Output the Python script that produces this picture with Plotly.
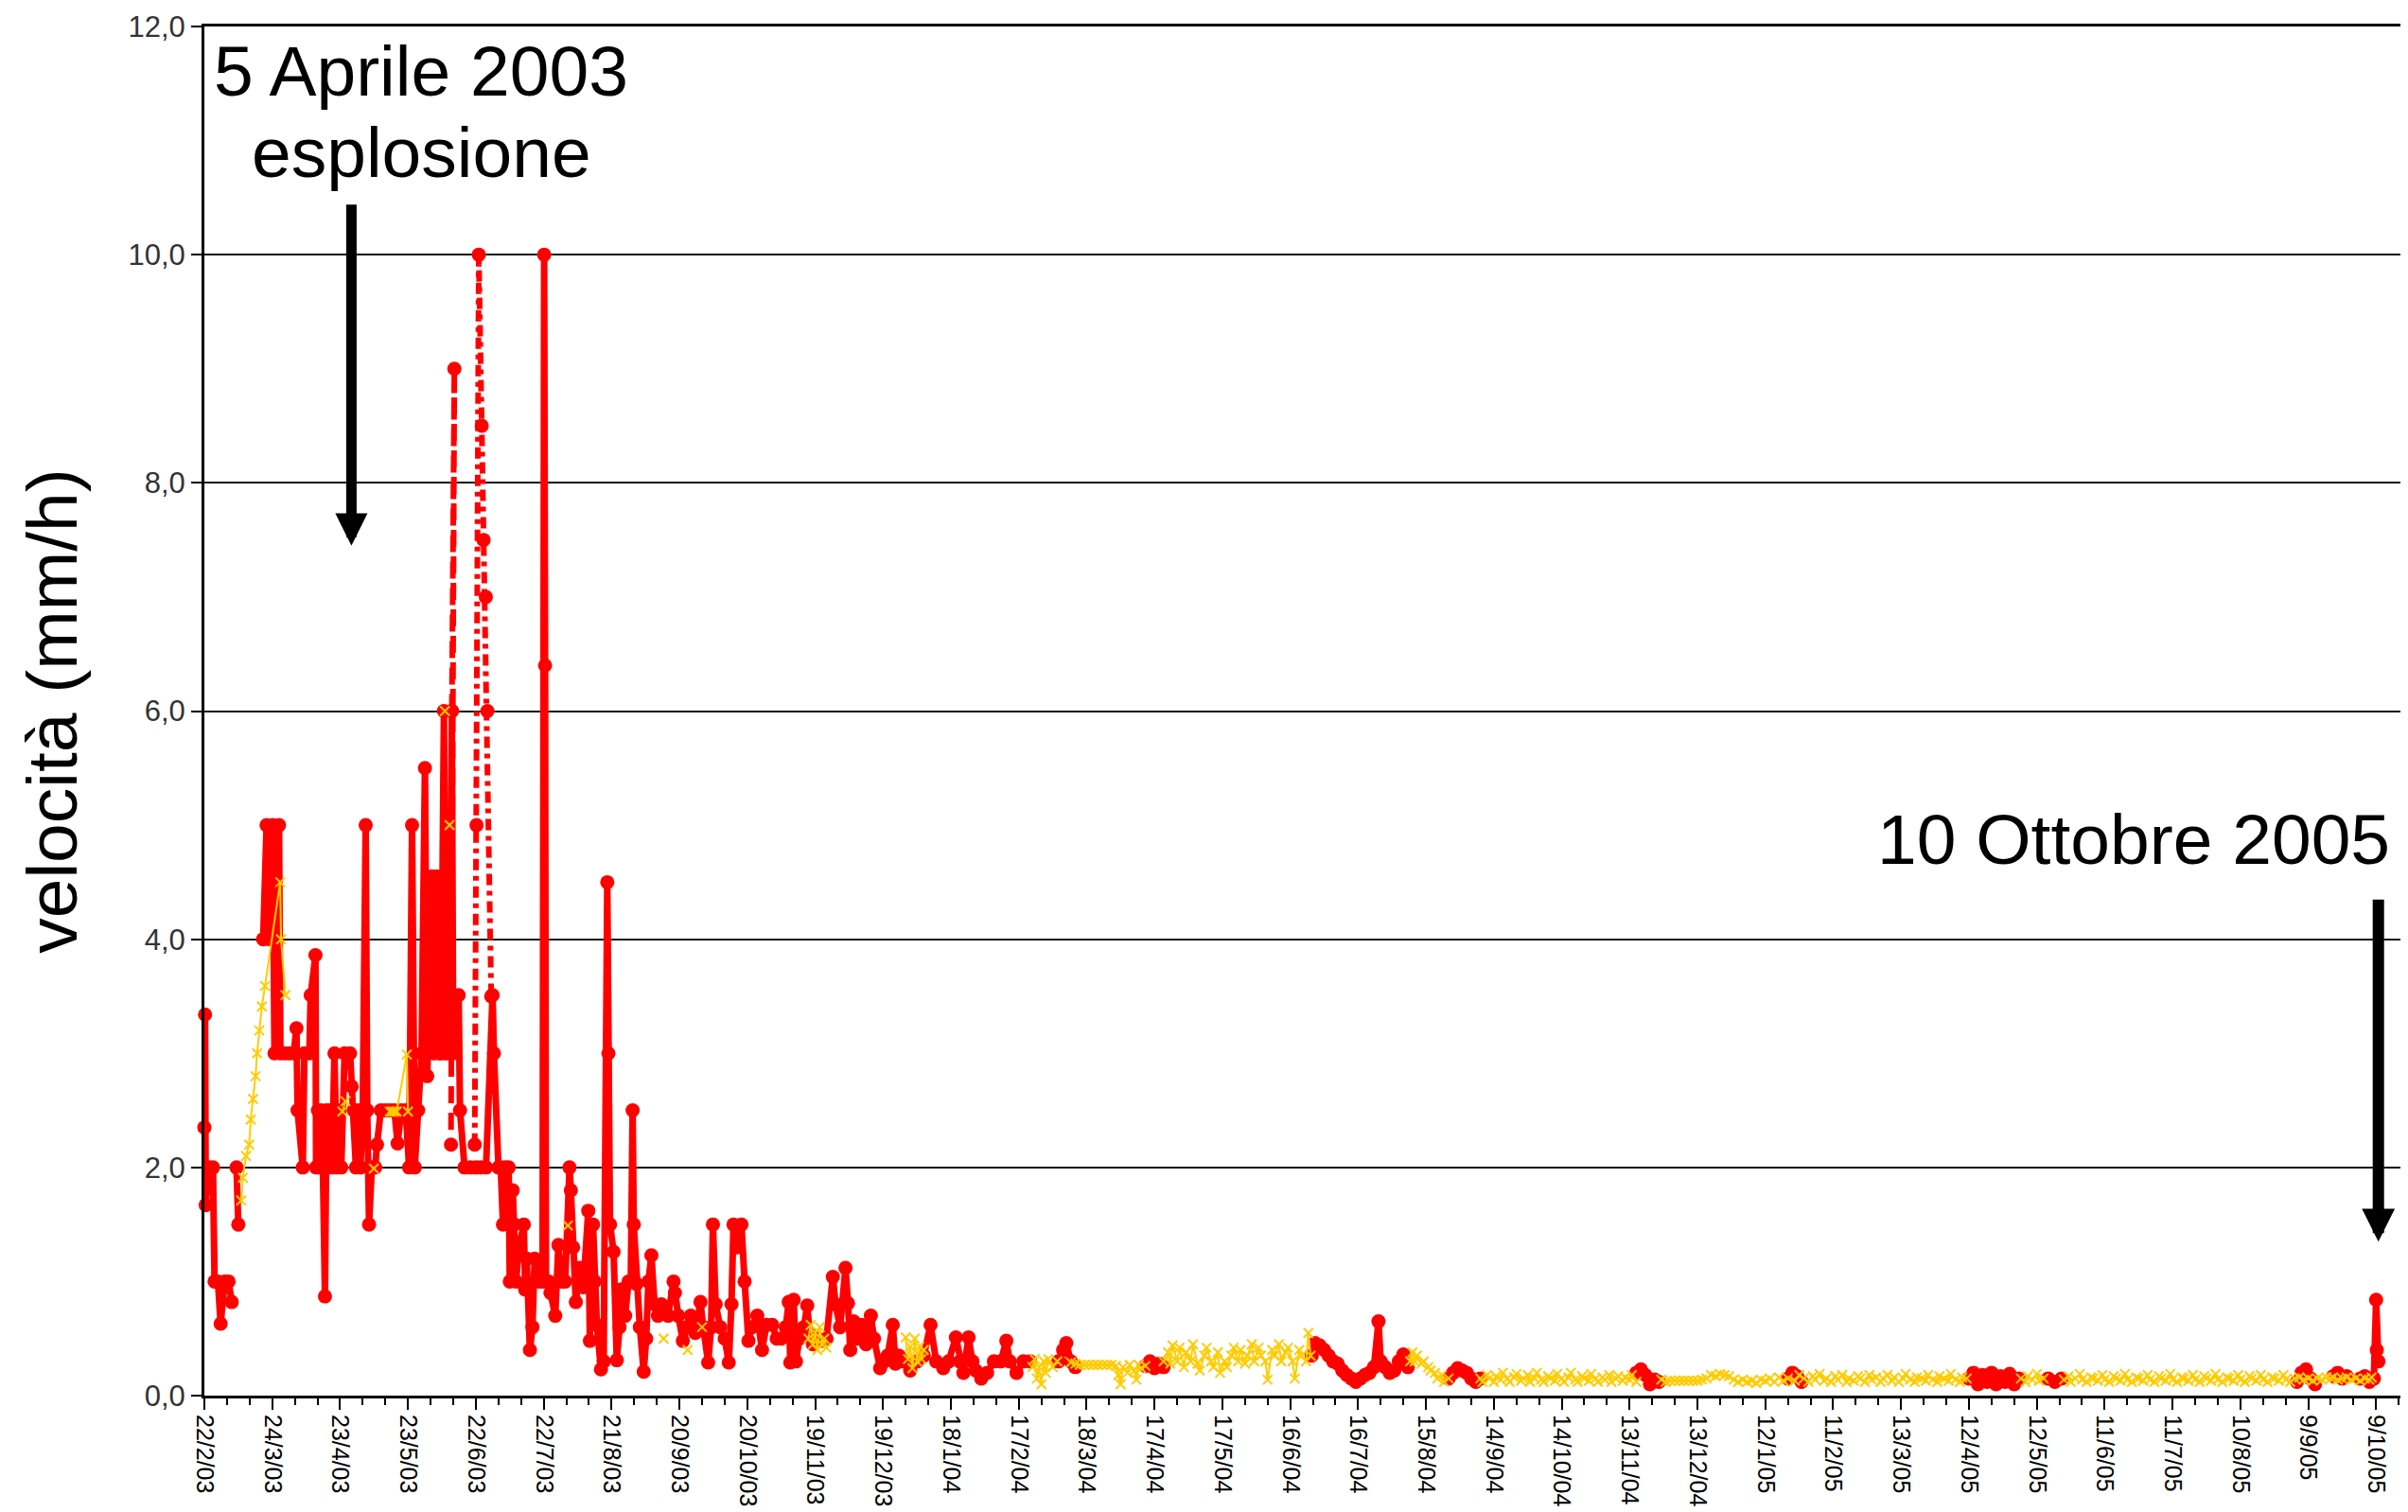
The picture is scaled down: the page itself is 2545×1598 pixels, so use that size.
import plotly.graph_objects as go
import pandas as pd

START = pd.Timestamp("2003-02-22")

# ---- red series (day offset from 22/2/03, velocity mm/h); None = gap ----
red_pts = [
    (0.0, 2.35), (0.3, 3.34), (0.6, 1.67), (2.0, 2.0), (3.8, 2.0), (4.5, 1.0), (6.0, 1.0),
    (7.2, 0.63), (9.0, 1.0), (10.7, 1.0), (12.1, 0.82), (13.0, None),
    (14.2, 2.0), (15.0, 1.5), (20.0, None),
    (26.0, 4.0), (27.5, 5.0), (28.9, 4.0), (30.2, 5.0), (31.0, 3.0), (32.0, 4.0), (33.0, 5.0),
    (33.6, 3.0), (35.5, 3.0), (37.5, 3.0), (39.5, 3.0), (40.7, 3.22), (41.2, 2.5), (43.5, 2.0),
    (44.2, 3.0), (46.4, 3.0), (47.0, 3.51), (49.1, 3.86), (49.4, 2.0), (50.2, 2.5), (50.9, 2.0),
    (51.6, 2.5), (52.4, 2.0), (53.3, 0.87), (54.0, 2.5), (54.8, 2.0), (55.6, 2.5), (56.4, 2.0),
    (57.5, 3.0), (58.5, 2.0), (59.5, 2.5), (60.5, 2.0), (62.0, 3.0), (64.4, 3.0), (65.1, 2.71),
    (66.0, 2.5), (67.0, 2.0), (68.0, 2.5), (69.0, 2.0), (70.0, 2.5), (71.3, 5.0), (72.0, 2.5),
    (72.8, 1.5), (74.0, 2.0), (75.5, 2.0), (76.3, 2.2), (78.0, 2.5), (80.0, 2.5), (82.0, 2.5),
    (84.0, 2.5), (85.4, 2.21), (87.0, 2.5), (89.0, 2.5), (90.5, 2.0), (91.8, 5.0), (93.0, 2.0),
    (94.5, 2.5), (96.0, 3.0), (97.5, 5.5), (98.5, 2.8), (99.5, 3.5), (100.7, 4.55), (101.5, 3.0),
    (102.8, 4.55), (103.8, 3.0), (104.6, 3.0), (105.9, 6.0), (106.5, 3.0), (108.0, 3.0),
    (109.4, 6.0), (110.0, 3.0), (112.4, 3.51), (113.0, 2.5), (115.0, 2.0), (117.6, 2.0),
    (120.0, 2.0), (122.0, 2.0), (124.5, 2.0), (127.4, 3.51), (128.0, 3.0), (130.0, 2.0),
    (131.0, 2.0), (132.0, 1.5), (133.0, 2.0), (134.5, 2.0), (135.0, 1.0), (136.3, 1.8),
    (137.0, 1.5), (137.8, 1.0), (139.0, 1.3), (141.2, 1.5), (141.8, 0.93), (142.5, 1.2),
    (143.9, 0.4), (145.0, 0.6), (146.0, 1.2), (148.0, 1.0), (149.5, 1.0), (150.2, 10.0),
    (150.6, 6.4), (151.0, 1.0), (152.3, 1.0), (153.0, 0.9), (155.1, 0.7), (156.5, 1.32),
    (158.0, 1.0), (159.5, 1.0), (161.4, 2.0), (162.0, 1.8), (163.0, 1.3), (164.2, 0.82),
    (166.0, 1.12), (167.5, 0.95), (169.7, 1.62), (170.4, 0.48), (171.8, 1.5), (172.5, 1.0),
    (173.5, 0.62), (175.3, 0.23), (176.5, 0.3), (178.1, 4.5), (178.6, 3.0), (179.3, 1.5),
    (180.9, 1.26), (182.3, 0.31), (183.5, 0.6), (184.4, 0.93), (186.0, 0.7), (187.5, 1.0),
    (188.5, 1.0), (189.3, 2.5), (189.8, 1.5), (191.0, 0.98), (192.5, 0.6), (194.2, 0.21),
    (195.3, 0.5), (196.3, 1.0), (197.6, 1.23), (199.0, 0.8), (200.5, 0.7), (202.0, 0.8),
    (205.0, 0.7), (207.4, 1.0), (208.0, 0.9), (209.5, 0.7), (211.5, 0.48), (213.0, 0.6),
    (215.0, 0.7), (217.0, 0.55), (219.3, 0.82), (220.5, 0.6), (222.7, 0.29), (224.0, 0.6),
    (224.8, 1.5), (226.0, 0.8), (228.0, 0.6), (230.0, 0.5), (231.8, 0.29), (233.0, 0.8),
    (233.9, 1.5), (235.5, 1.3), (237.4, 1.5), (238.8, 1.0), (240.5, 0.48), (242.0, 0.6),
    (244.4, 0.7), (246.5, 0.4), (248.5, 0.62), (251.0, 0.62), (253.0, 0.5), (255.0, 0.5),
    (257.0, 0.6), (258.3, 0.82), (259.0, 0.29), (260.5, 0.84), (261.5, 0.3), (263.0, 0.5),
    (265.0, 0.6), (266.5, 0.79), (267.5, 0.55), (269.0, 0.45), (271.0, 0.5), (273.0, 0.48),
    (275.0, 0.5), (277.8, 1.04), (279.0, 0.8), (281.0, 0.6), (283.4, 1.12), (284.5, 0.81),
    (285.5, 0.4), (287.0, 0.65), (288.5, 0.5), (290.4, 0.62), (292.5, 0.45), (294.6, 0.7),
    (296.0, 0.5), (298.7, 0.24), (300.5, 0.3), (302.0, 0.35), (304.3, 0.62), (305.5, 0.28),
    (307.0, 0.35), (309.0, 0.3), (312.0, 0.22), (315.0, 0.3), (318.0, 0.35), (321.0, 0.62),
    (323.5, 0.3), (326.6, 0.24), (329.0, 0.3), (332.2, 0.51), (334.0, 0.3), (335.5, 0.2),
    (337.8, 0.51), (339.5, 0.3), (341.0, 0.22), (343.4, 0.15), (346.0, 0.2), (349.0, 0.3),
    (352.0, 0.3), (354.5, 0.48), (356.0, 0.3), (359.0, 0.2), (362.0, 0.3), (365.0, 0.3),
    (366.5, None),
    (377.5, 0.3), (379.6, 0.4), (381.0, 0.46), (383.0, 0.3), (385.0, 0.25), (386.0, None),
    (416.0, 0.26), (418.0, 0.3), (420.0, 0.24), (422.0, 0.28), (424.0, 0.25), (425.0, None),
    (489.5, 0.35), (491.0, 0.46), (493.0, 0.44), (495.0, 0.4), (497.0, 0.35), (499.0, 0.3),
    (501.0, 0.28), (503.0, 0.22), (505.0, 0.18), (507.0, 0.15), (509.0, 0.12), (511.0, 0.15),
    (513.0, 0.18), (515.0, 0.2), (517.0, 0.25), (519.0, 0.65), (520.0, 0.3), (522.0, 0.25),
    (524.0, 0.2), (526.0, 0.22), (528.0, 0.3), (530.0, 0.36), (532.0, 0.25), (533.0, None),
    (550.0, 0.15), (552.0, 0.2), (554.0, 0.24), (556.0, 0.22), (558.0, 0.2), (560.0, 0.15),
    (562.0, 0.12), (564.0, 0.15), (565.0, None),
    (633.0, 0.2), (635.0, 0.23), (637.0, 0.18), (639.0, 0.1), (641.0, 0.14), (643.0, 0.12),
    (645.0, None),
    (700.0, 0.15), (702.0, 0.2), (704.0, 0.17), (706.0, 0.12), (707.0, None),
    (780.0, 0.15), (782.0, 0.2), (784.0, 0.1), (786.0, 0.18), (788.0, 0.12), (790.0, 0.2),
    (792.0, 0.1), (794.0, 0.17), (796.0, 0.12), (798.0, 0.19), (800.0, 0.1), (802.0, 0.15),
    (803.0, None),
    (815.0, 0.15), (818.0, 0.12), (821.0, 0.15), (822.0, None),
    (925.0, 0.12), (927.0, 0.2), (929.0, 0.23), (931.0, 0.15), (933.0, 0.1), (934.0, None),
    (941.0, 0.17), (943.0, 0.2), (945.0, 0.15), (947.0, 0.17), (948.0, None),
    (953.0, 0.15), (955.0, 0.17), (957.0, 0.12), (959.0, 0.15), (960.0, 0.84), (960.3, 0.4),
    (961.0, 0.3),
]

# dashed red spikes (June 2003)
dash_day = [109.4, 110.5, 109.0]
dash_val = [6.0, 9.0, 2.2]
dot_day = [119.5, 120.3, 121.3, 122.6, 123.4, 124.4, 125.1, 126.8]
dot_val = [2.2, 5.0, 10.0, 8.5, 7.5, 7.0, 6.0, 3.5]

# ---- yellow series ----
yellow_pts = [
    (16.3, 1.71), (17.0, 1.91), (18.4, 2.1), (19.8, 2.2), (20.5, 2.42), (21.5, 2.6), (22.6, 2.8),
    (23.3, 3.0), (24.3, 3.2), (25.4, 3.41), (26.8, 3.59), (33.5, 4.5), (33.9, 4.0), (35.8, 3.51),
    (40.0, None), (61.0, 2.49), (62.4, 2.58), (68.0, None), (74.9, 1.99), (78.0, None),
    (82.0, 2.49), (83.0, 2.49), (84.0, 2.49), (85.0, 2.49), (89.5, 2.99), (90.0, 2.49), (95.0, None),
    (106.3, 6.0), (107.0, None), (108.4, 5.0), (120.0, None), (160.7, 1.49), (180.0, None),
    (203.0, 0.5), (208.0, None), (213.6, 0.4), (217.0, None), (220.0, 0.6), (250.0, None),
    (267, 0.5), (268, 0.62), (269, 0.45), (270, 0.55), (271, 0.4), (272, 0.6), (273, 0.45),
    (274, 0.5), (275, 0.42), (290, None),
    (310, 0.51), (311, 0.32), (312, 0.43), (313, 0.24), (314, 0.5), (315, 0.3), (316, 0.43),
    (317, 0.32), (318, 0.4), (340, None),
    (366, 0.25), (367, 0.32), (368, 0.15), (369, 0.25), (370, 0.1), (371, 0.3), (372, 0.2),
    (373, 0.32), (375, 0.25), (377, 0.3), (379, None),
    (383, 0.29), (385, 0.28), (387, 0.27), (389, 0.27), (391, 0.27), (393, 0.27), (395, 0.27),
    (397, 0.27), (399, 0.27), (401, 0.27), (403, 0.26), (404, 0.18), (405, 0.1), (406, 0.25),
    (408, 0.2), (409, 0.27), (411, 0.22), (412, 0.14), (413, 0.27), (414, 0.24), (416, 0.26),
    (420, None),
    (424, 0.3), (426, 0.38), (427, 0.28), (428, 0.44), (430, 0.3), (431, 0.42), (433, 0.25),
    (434, 0.38), (436, 0.3), (437, 0.45), (439, 0.28), (440, 0.22), (442, 0.35), (443, 0.42),
    (445, 0.3), (446, 0.25), (448, 0.38), (449, 0.2), (451, 0.3), (452, 0.25), (454, 0.35),
    (455, 0.42), (457, 0.3), (458, 0.4), (460, 0.28), (461, 0.35), (463, 0.45), (464, 0.3),
    (466, 0.42), (467, 0.35), (469, 0.3), (470, 0.14), (472, 0.4), (473, 0.35), (475, 0.45),
    (476, 0.3), (478, 0.38), (479, 0.42), (481, 0.3), (482, 0.15), (484, 0.4), (485, 0.35),
    (487, 0.3), (488, 0.55), (489, 0.35), (490, None),
    (533, 0.3), (534, 0.38), (535, 0.3), (536, 0.35), (538, 0.28), (539, 0.3), (541, 0.25),
    (542, 0.22), (544, 0.2), (545, 0.15), (547, 0.18), (548, 0.12), (550, 0.15), (551, None),
    (564, 0.15), (565, 0.12), (567, 0.18), (568, 0.15), (570, 0.12), (571, 0.17), (573, 0.14),
    (574, 0.2), (576, 0.15), (577, 0.12), (579, 0.16), (580, 0.19), (582, 0.13), (583, 0.15),
    (585, 0.18), (586, 0.12), (588, 0.15), (589, 0.2), (591, 0.14), (592, 0.12), (594, 0.17),
    (595, 0.15), (597, 0.13), (598, 0.19), (600, 0.15), (601, 0.12), (603, 0.16), (604, 0.2),
    (606, 0.14), (607, 0.12), (609, 0.17), (610, 0.15), (612, 0.13), (613, 0.19), (615, 0.15),
    (616, 0.12), (618, 0.16), (619, 0.14), (621, 0.18), (622, 0.12), (624, 0.15), (625, 0.17),
    (627, 0.13), (628, 0.16), (630, 0.14), (631, 0.18), (633, 0.12), (638, None),
    (644, 0.14), (646, 0.12), (648, 0.13), (650, 0.13), (652, 0.13), (654, 0.13), (656, 0.13),
    (658, 0.13), (660, 0.13), (662, 0.14), (664, 0.15), (666, 0.18), (668, 0.17), (670, 0.19),
    (672, 0.18), (674, 0.17), (676, 0.14), (678, 0.12), (680, 0.14), (682, 0.12), (684, 0.13),
    (686, 0.11), (688, 0.14), (690, 0.13), (692, 0.15), (694, 0.12), (696, 0.16), (698, 0.13),
    (700, 0.15), (703, 0.13), (705, 0.18), (707, 0.15), (709, 0.12), (711, 0.17), (712, 0.14),
    (714, 0.19), (716, 0.13), (717, 0.15), (719, 0.12), (721, 0.17), (722, 0.14), (724, 0.18),
    (726, 0.12), (727, 0.15), (729, 0.13), (731, 0.17), (732, 0.15), (734, 0.12), (736, 0.18),
    (737, 0.14), (739, 0.16), (741, 0.12), (742, 0.15), (744, 0.18), (746, 0.13), (747, 0.16),
    (749, 0.12), (751, 0.15), (752, 0.19), (754, 0.14), (756, 0.12), (757, 0.16), (759, 0.15),
    (761, 0.13), (762, 0.18), (764, 0.14), (766, 0.12), (767, 0.17), (769, 0.15), (771, 0.13),
    (772, 0.19), (774, 0.14), (776, 0.12), (777, 0.16), (779, 0.15), (781, None),
    (803, 0.15), (805, 0.12), (806, 0.17), (808, 0.14), (810, 0.19), (811, 0.13), (813, 0.15),
    (814, None),
    (822, 0.14), (824, 0.17), (825, 0.12), (827, 0.15), (829, 0.19), (830, 0.14), (832, 0.12),
    (834, 0.16), (835, 0.15), (837, 0.13), (839, 0.18), (840, 0.14), (842, 0.12), (844, 0.17),
    (845, 0.15), (847, 0.13), (849, 0.19), (850, 0.14), (852, 0.12), (854, 0.16), (855, 0.15),
    (857, 0.13), (859, 0.18), (860, 0.14), (862, 0.12), (864, 0.17), (865, 0.15), (867, 0.13),
    (869, 0.19), (870, 0.14), (872, 0.12), (874, 0.16), (875, 0.15), (877, 0.13), (879, 0.18),
    (880, 0.14), (882, 0.12), (884, 0.17), (885, 0.15), (887, 0.13), (889, 0.19), (890, 0.14),
    (892, 0.12), (894, 0.16), (895, 0.15), (897, 0.13), (899, 0.18), (900, 0.14), (902, 0.12),
    (904, 0.17), (905, 0.15), (907, 0.13), (909, 0.18), (910, 0.14), (912, 0.12), (914, 0.16),
    (915, 0.15), (917, 0.13), (919, 0.18), (920, 0.14), (922, 0.12), (924, 0.15), (926, 0.16),
    (928, 0.14), (930, 0.15), (932, 0.13), (934, 0.15), (936, 0.14), (938, 0.16), (940, 0.15),
    (941, 0.16), (943, 0.14), (945, 0.15), (947, 0.16), (949, 0.14), (951, 0.15), (953, 0.13),
    (955, 0.15), (957, 0.14), (958, 0.16),
]

# ---- axis ticks ----
tick_dates = ["2003-02-22", "2003-03-24", "2003-04-23", "2003-05-23", "2003-06-22", "2003-07-22",
              "2003-08-21", "2003-09-20", "2003-10-20", "2003-11-19", "2003-12-19", "2004-01-18",
              "2004-02-17", "2004-03-18", "2004-04-17", "2004-05-17", "2004-06-16", "2004-07-16",
              "2004-08-15", "2004-09-14", "2004-10-14", "2004-11-13", "2004-12-13", "2005-01-12",
              "2005-02-11", "2005-03-13", "2005-04-12", "2005-05-12", "2005-06-11", "2005-07-11",
              "2005-08-10", "2005-09-09", "2005-10-09"]
tick_text = ["22/2/03", "24/3/03", "23/4/03", "23/5/03", "22/6/03", "22/7/03", "21/8/03", "20/9/03",
             "20/10/03", "19/11/03", "19/12/03", "18/1/04", "17/2/04", "18/3/04", "17/4/04",
             "17/5/04", "16/6/04", "16/7/04", "15/8/04", "14/9/04", "14/10/04", "13/11/04",
             "13/12/04", "12/1/05", "11/2/05", "13/3/05", "12/4/05", "12/5/05", "11/6/05",
             "11/7/05", "10/8/05", "9/9/05", "9/10/05"]
y_ticks = [0, 2, 4, 6, 8, 10, 12]
y_tick_text = ["0,0", "2,0", "4,0", "6,0", "8,0", "10,0", "12,0"]
x_range_days = [0, 972]

# annotation anchors (day offset, value)
arrow1 = (65.0, 7.45)
arrow2 = (961.0, 1.35)

RED = "#FF0000"
YEL = "#FFCC00"
FONT = "Liberation Sans, Arial, sans-serif"


def to_dates(days):
    return START + pd.to_timedelta(list(days), unit="D")


red_day = [p[0] for p in red_pts]
red_val = [p[1] for p in red_pts]
yellow_day = [p[0] for p in yellow_pts]
yellow_val = [p[1] for p in yellow_pts]

fig = go.Figure()
fig.add_trace(go.Scatter(x=to_dates(red_day), y=red_val, mode="lines+markers",
                         line=dict(color=RED, width=7),
                         marker=dict(symbol="circle", size=15, color=RED),
                         cliponaxis=False, connectgaps=False))
fig.add_trace(go.Scatter(x=to_dates(dash_day), y=dash_val, mode="lines+markers",
                         line=dict(color=RED, width=6, dash="18px,10px"),
                         marker=dict(symbol="circle", size=15, color=RED)))
fig.add_trace(go.Scatter(x=to_dates(dot_day), y=dot_val, mode="lines+markers",
                         line=dict(color=RED, width=6, dash="12px,6px,5px,6px"),
                         marker=dict(symbol="circle", size=15, color=RED)))
fig.add_trace(go.Scatter(x=to_dates(yellow_day), y=yellow_val, mode="lines+markers",
                         line=dict(color=YEL, width=2),
                         marker=dict(symbol="x-thin", size=10, color=YEL,
                                     line=dict(width=2, color=YEL)),
                         connectgaps=False))

xr = to_dates(x_range_days)
a1 = to_dates([arrow1[0]])[0]
a2 = to_dates([arrow2[0]])[0]

# the page body has an 8px margin: the figure is sized/offset to compensate
fig.update_layout(
    width=2537, height=1590,
    margin=dict(l=208, r=5, t=20, b=123, autoexpand=False),
    paper_bgcolor="white", plot_bgcolor="white",
    showlegend=False,
    font=dict(family=FONT, color="black"),
    xaxis=dict(type="date", range=[xr[0], xr[1]],
               tickmode="array", tickvals=tick_dates, ticktext=tick_text,
               tickangle=90, tickfont=dict(size=25, color="black"),
               ticks="outside", ticklen=12, tickwidth=2, tickcolor="black",
               showline=True, linecolor="black", linewidth=3, mirror=True,
               showgrid=False, zeroline=False,
               minor=dict(tickmode="linear", tick0="2003-02-22", dtick=864000000,
                          ticks="outside", ticklen=7, tickwidth=2, tickcolor="black",
                          showgrid=False)),
    yaxis=dict(range=[0, 12], tickmode="array", tickvals=y_ticks, ticktext=y_tick_text,
               tickfont=dict(size=31, color="#333333"),
               ticks="outside", ticklen=11, tickwidth=2, tickcolor="black",
               showline=True, linecolor="black", linewidth=3, mirror=True,
               showgrid=True, gridcolor="#111111", gridwidth=2, zeroline=False,
               title=dict(text="velocità (mm/h)", font=dict(size=75, color="black"),
                          standoff=30)),
    annotations=[
        dict(text="5 Aprile 2003", xref="paper", yref="paper", x=0.0984, y=0.9678,
             xanchor="center", yanchor="middle", showarrow=False, font=dict(size=75)),
        dict(text="esplosione", xref="paper", yref="paper", x=0.0988, y=0.9081,
             xanchor="center", yanchor="middle", showarrow=False, font=dict(size=75)),
        dict(text="10 Ottobre 2005", xref="paper", yref="paper", x=0.8774, y=0.4064,
             xanchor="center", yanchor="middle", showarrow=False, font=dict(size=75)),
        dict(text="", x=a1, y=arrow1[1], xref="x", yref="y", ax=0, ay=-362,
             showarrow=True, arrowhead=2, arrowwidth=11, arrowsize=0.62, arrowcolor="black"),
        dict(text="", x=a2, y=arrow2[1], xref="x", yref="y", ax=0, ay=-363,
             showarrow=True, arrowhead=2, arrowwidth=12, arrowsize=0.58, arrowcolor="black"),
    ],
)

fig.write_html("out.html")
